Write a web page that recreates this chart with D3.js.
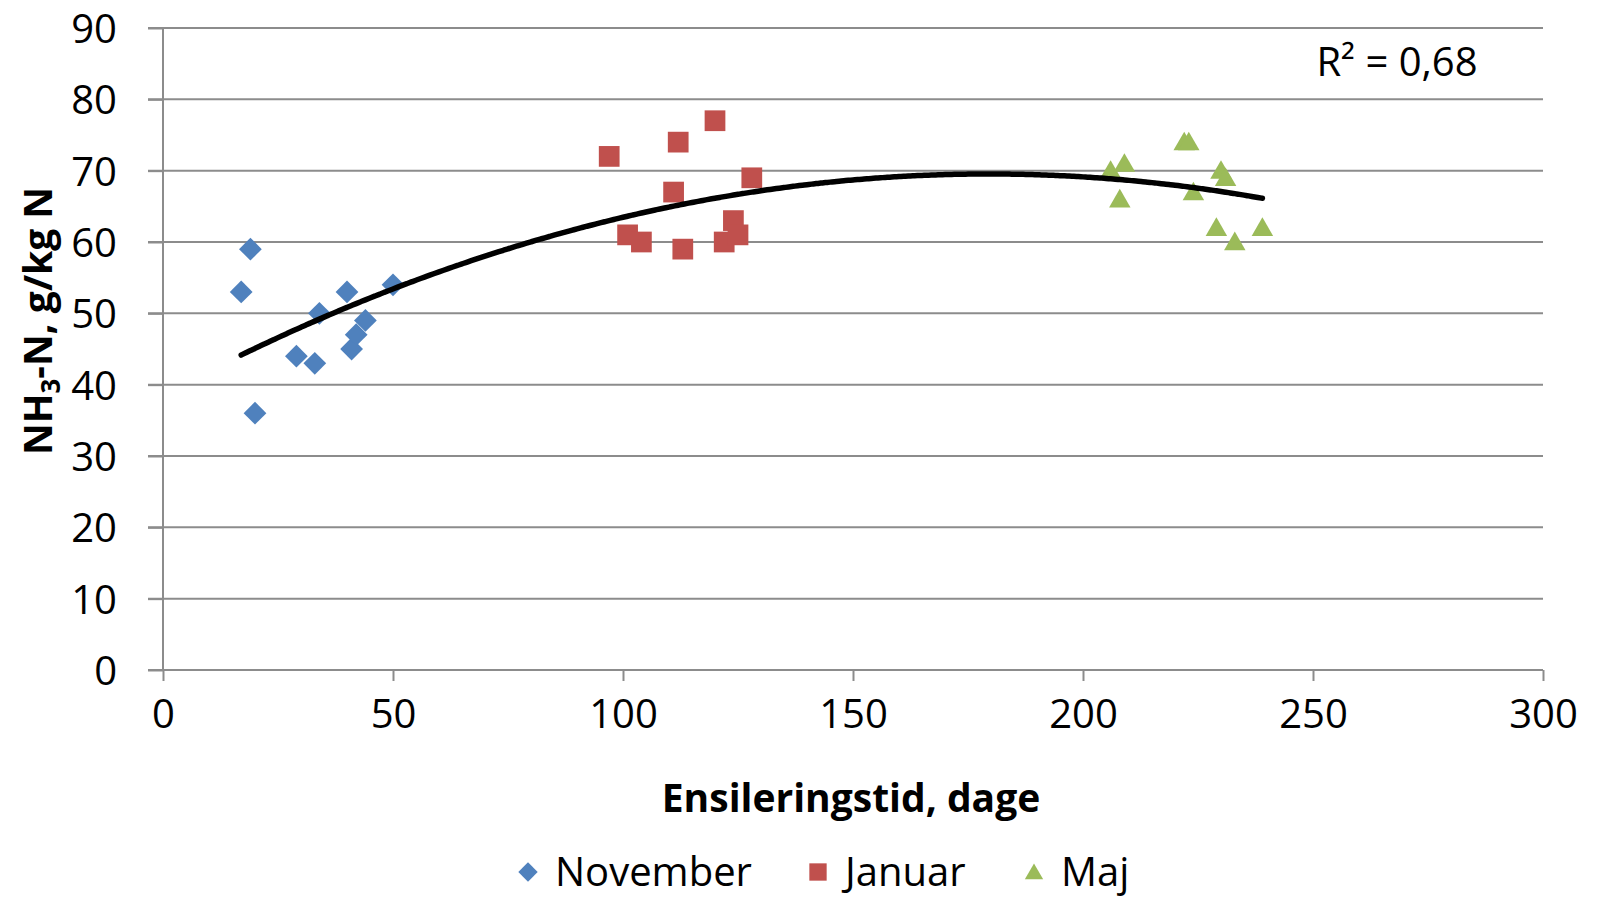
<!DOCTYPE html>
<html>
<head>
<meta charset="utf-8">
<script src="https://cdn.jsdelivr.net/npm/d3@7"></script>
<style>
  html, body { margin: 0; padding: 0; background: #fff; overflow: hidden; }
  text { font-family: "Open Sans", Lato, sans-serif; fill: #000; }
</style>
</head>
<body>
<div id="chart-container"></div>
<script>
// Ensilering data (x = dage, y = NH3-N g/kg N)
const novemberX = [17, 19, 20, 29, 33, 34, 40, 41, 42, 44, 50];
const novemberY = [53, 59, 36, 44, 43, 50, 53, 45, 47, 49, 54];
const januarX = [97, 101, 104, 111, 112, 113, 120, 122, 124, 125, 128];
const januarY = [72, 61, 60, 67, 74, 59, 77, 60, 63, 61, 69];
const majX = [206, 208, 209, 222, 223, 224, 229, 230, 231, 233, 239];
const majY = [70, 66, 71, 74, 74, 67, 62, 70, 69, 60, 62];

const xTicks = [0, 50, 100, 150, 200, 250, 300];
const yTicks = [0, 10, 20, 30, 40, 50, 60, 70, 80, 90];
const seriesNames = ['November', 'Januar', 'Maj'];
const seriesColors = ['#4F81BD', '#C0504D', '#9BBB59'];
const r2Label = 'R² = 0,68';

const width = 1597;
const height = 899;
const margin = { top: 28, right: 54, bottom: 229, left: 163 };

const svg = d3.select('#chart-container')
  .append('svg')
  .attr('width', width)
  .attr('height', height);

const x = d3.scaleLinear().domain([0, 300]).range([margin.left, width - margin.right]);
const y = d3.scaleLinear().domain([0, 90]).range([height - margin.bottom, margin.top]);

// gridlines
svg.append('g')
  .selectAll('line')
  .data(yTicks.filter((d) => d > 0))
  .join('line')
  .attr('x1', x(0) - 15)
  .attr('x2', x(300))
  .attr('y1', (d) => y(d))
  .attr('y2', (d) => y(d))
  .attr('stroke', '#8c8c8c')
  .attr('stroke-width', 2);

// y axis
const yAxis = svg.append('g')
  .attr('transform', `translate(${x(0)},0)`)
  .call(d3.axisLeft(y).tickValues(yTicks).tickSize(15).tickPadding(31));
yAxis.selectAll('line, path').attr('stroke', '#8c8c8c').attr('stroke-width', 2);
yAxis.select('path').attr('d', `M0,${y(0)}V${y(90)}`);
yAxis.selectAll('text').style('font-size', '40px').attr('dy', '0.36em');

// x axis
const xAxis = svg.append('g')
  .attr('transform', `translate(0,${y(0)})`)
  .call(d3.axisBottom(x).tickValues(xTicks).tickSize(11).tickPadding(20));
xAxis.selectAll('line, path').attr('stroke', '#8c8c8c').attr('stroke-width', 2);
xAxis.select('path').attr('d', `M${x(0) - 15},0H${x(300)}`);
xAxis.selectAll('text').style('font-size', '40px').attr('dy', '0.68em');

// quadratic trendline, least squares over all points
const allX = novemberX.concat(januarX, majX);
const allY = novemberY.concat(januarY, majY);
function quadFit(xs, ys) {
  const s = [0, 0, 0, 0, 0];
  const t = [0, 0, 0];
  xs.forEach((xi, i) => {
    for (let k = 0; k < 5; k++) s[k] += Math.pow(xi, k);
    for (let k = 0; k < 3; k++) t[k] += ys[i] * Math.pow(xi, k);
  });
  const A = [
    [s[0], s[1], s[2], t[0]],
    [s[1], s[2], s[3], t[1]],
    [s[2], s[3], s[4], t[2]],
  ];
  for (let c = 0; c < 3; c++) {
    for (let r = c + 1; r < 3; r++) {
      const f = A[r][c] / A[c][c];
      for (let k = c; k < 4; k++) A[r][k] -= f * A[c][k];
    }
  }
  const b = [0, 0, 0];
  for (let r = 2; r >= 0; r--) {
    let v = A[r][3];
    for (let k = r + 1; k < 3; k++) v -= A[r][k] * b[k];
    b[r] = v / A[r][r];
  }
  return b;
}
const coef = quadFit(allX, allY);
const xMin = d3.min(allX);
const xMax = d3.max(allX);
const trend = d3.range(xMin, xMax + 0.5, 1).map((d) => [d, coef[0] + coef[1] * d + coef[2] * d * d]);

// points
const seriesX = [novemberX, januarX, majX];
const seriesY = [novemberY, januarY, majY];
const symbols = [d3.symbolDiamond2, d3.symbolSquare, d3.symbolTriangle2];
const symbolSizes = [330, 430, 330];

seriesX.forEach((xs, si) => {
  const sym = d3.symbol().type(symbols[si]).size(symbolSizes[si]);
  svg.append('g')
    .selectAll('path')
    .data(xs.map((d, i) => [d, seriesY[si][i]]))
    .join('path')
    .attr('d', sym)
    .attr('transform', (d) => `translate(${x(d[0])},${y(d[1]) + (si === 2 ? 2 : 0)})`)
    .attr('fill', seriesColors[si]);
});

svg.append('path')
  .datum(trend)
  .attr('fill', 'none')
  .attr('stroke', '#000')
  .attr('stroke-width', 5.5)
  .attr('stroke-linecap', 'round')
  .attr('d', d3.line().x((d) => x(d[0])).y((d) => y(d[1])).curve(d3.curveBasis));

// R2 label
svg.append('text')
  .attr('x', 1397)
  .attr('y', 62)
  .attr('dy', '0.36em')
  .attr('text-anchor', 'middle')
  .style('font-size', '40px')
  .text(r2Label);

// axis titles
svg.append('text')
  .attr('x', 851)
  .attr('y', 798)
  .attr('dy', '0.36em')
  .attr('text-anchor', 'middle')
  .style('font-size', '39px')
  .style('font-weight', 'bold')
  .text('Ensileringstid, dage');

const yTitle = svg.append('text')
  .attr('transform', 'translate(38,321) rotate(-90)')
  .attr('dy', '0.36em')
  .attr('text-anchor', 'middle')
  .style('font-size', '39px')
  .style('font-weight', 'bold');
yTitle.append('tspan').text('NH');
yTitle.append('tspan').attr('dy', '0.3em').style('font-size', '26px').text('3');
yTitle.append('tspan').attr('dy', '-0.2em').text('-N, g/kg N');

// legend (sits at the very bottom edge, as in the original)
const legendX = [528, 818, 1034];
const legend = svg.append('g');
seriesNames.forEach((name, i) => {
  const g = legend.append('g').attr('transform', `translate(${legendX[i]},872)`);
  g.append('path')
    .attr('d', d3.symbol().type(symbols[i]).size(i === 1 ? 300 : 240))
    .attr('transform', `translate(0,${i === 2 ? 2 : 0})`)
    .attr('fill', seriesColors[i]);
  g.append('text')
    .attr('x', 27)
    .attr('dy', '0.36em')
    .style('font-size', '40px')
    .text(name);
});
</script>
</body>
</html>
